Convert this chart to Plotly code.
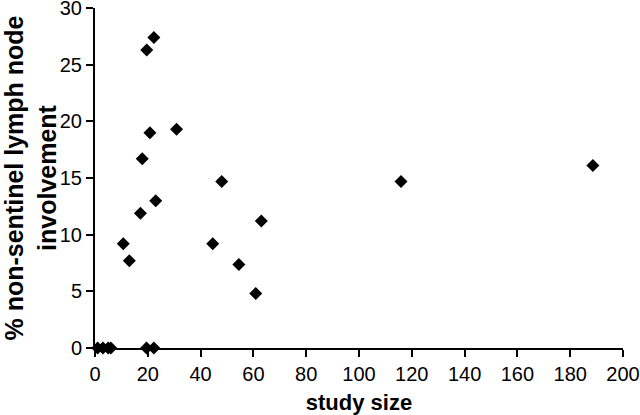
import plotly.graph_objects as go

# study size vs % non-sentinel lymph node involvement
study_size = [1, 3, 5, 6, 19.5, 22.3,
              22.3, 19.6, 20.8, 30.9, 17.9, 48.0, 23.0, 17.2, 10.7, 13.0,
              44.6, 54.5, 60.9, 63.0, 115.9, 188.6]
pct_involvement = [0, 0, 0, 0, 0, 0,
                   27.4, 26.3, 19.0, 19.3, 16.7, 14.7, 13.0, 11.9, 9.2, 7.7,
                   9.2, 7.36, 4.8, 11.2, 14.7, 16.1]

x_ticks = [0, 20, 40, 60, 80, 100, 120, 140, 160, 180, 200]
y_ticks = [0, 5, 10, 15, 20, 25, 30]

FONT = "Liberation Sans, Arial"

fig = go.Figure(go.Scatter(
    x=study_size, y=pct_involvement, mode="markers",
    marker=dict(symbol="diamond", size=10, color="black"),
    cliponaxis=False,
))

axis_style = dict(
    showgrid=False, zeroline=False, showline=True, linecolor="black",
    linewidth=2, ticks="outside", ticklen=7, tickwidth=2, tickcolor="black",
    automargin=False, ticklabeloverflow="allow",
    tickfont=dict(family=FONT, size=20, color="black"),
)

fig.update_xaxes(range=[0, 200], tickvals=x_ticks,
                 title=dict(text="<b>study size</b>", standoff=12,
                            font=dict(family=FONT, size=22, color="black")),
                 **axis_style)
fig.update_yaxes(range=[0, 30], tickvals=y_ticks,
                 title=dict(text="<b>% non-sentinel lymph node<br>involvement</b>", standoff=10,
                            font=dict(family=FONT, size=25, color="black")),
                 **axis_style)

fig.update_layout(
    width=640, height=415,
    margin=dict(l=95, r=17, t=8, b=67),
    plot_bgcolor="white", paper_bgcolor="white",
    showlegend=False,
)

# drop the default 8px body margin so the figure fills the window
fig.write_html("out.html", config={"displayModeBar": False},
               post_script="document.body.style.margin='0';")
